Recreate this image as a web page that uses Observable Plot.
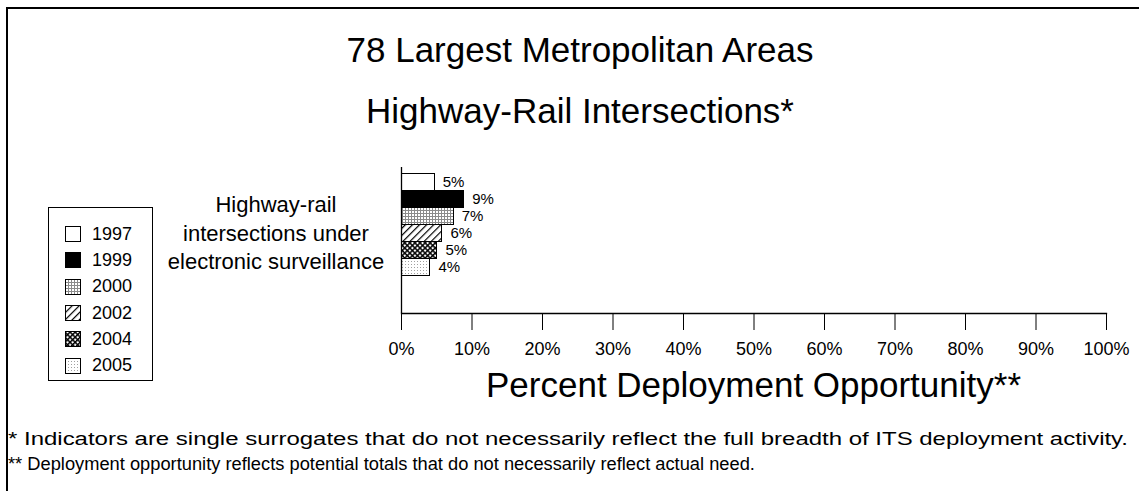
<!DOCTYPE html>
<html>
<head>
<meta charset="utf-8">
<script src="https://cdn.jsdelivr.net/npm/d3@7"></script>
<script src="https://cdn.jsdelivr.net/npm/@observablehq/plot@0.6"></script>
<style>
  html, body { margin: 0; padding: 0; background: #fff; }
  body { font-family: "Liberation Sans", Arial, sans-serif; color: #000; }
  #page { position: relative; width: 1139px; height: 491px; overflow: hidden; }
  .abs { position: absolute; white-space: nowrap; line-height: 1; }
  #border { position: absolute; left: 6px; top: 7px; width: 1200px; height: 600px;
            border-left: 2px solid #000; border-top: 2px solid #000; }
  #chart { position: absolute; left: 0; top: 0; }
  #legend { position: absolute; left: 48px; top: 207px; width: 105px; height: 174px;
            border: 1px solid #000; box-sizing: border-box; padding-top: 13px; }
  .lrow { height: 26.3px; display: flex; align-items: center; padding-left: 16px; font-size: 18px; }
  .lrow svg { margin-right: 11px; }
  #catlabel { position: absolute; left: 140px; width: 272px; top: 191px; text-align: center;
              font-size: 22px; line-height: 28.5px; }
  #fn1 { transform-origin: 0 0; }
</style>
</head>
<body>
<svg width="0" height="0" style="position:absolute">
  <defs>
    <pattern id="p2000" width="3" height="3" patternUnits="userSpaceOnUse">
      <rect width="3" height="3" fill="#fff"/>
      <rect width="3" height="1" fill="#8a8a8a"/>
      <rect width="1" height="3" fill="#8a8a8a"/>
    </pattern>
    <pattern id="p2002" width="5" height="5" patternUnits="userSpaceOnUse" patternTransform="rotate(45)">
      <rect width="5" height="5" fill="#fff"/>
      <rect width="1.2" height="5" fill="#000"/>
    </pattern>
    <pattern id="p2004" width="3.6" height="3.6" patternUnits="userSpaceOnUse" patternTransform="rotate(45)">
      <rect width="3.6" height="3.6" fill="#000"/>
      <rect x="1.5" y="1.5" width="2.1" height="2.1" fill="#fff"/>
    </pattern>
    <pattern id="p2005" width="3" height="3" patternUnits="userSpaceOnUse">
      <rect width="3" height="3" fill="#fff"/>
      <rect width="1" height="1" fill="#a0a0a0"/>
    </pattern>
  </defs>
</svg>
<div id="page">
  <div id="border"></div>
  <div class="abs" style="left:0;width:1160px;text-align:center;top:32px;font-size:35px;">78 Largest Metropolitan Areas</div>
  <div class="abs" style="left:0;width:1160px;text-align:center;top:93px;font-size:35px;">Highway-Rail Intersections*</div>
  <div class="abs" style="left:0;width:1507px;text-align:center;top:367px;font-size:35px;">Percent Deployment Opportunity**</div>
  <div id="catlabel"></div>
  <div id="legend"></div>
  <div class="abs" style="left:8px;top:430px;font-size:18.3px;" id="fn1"></div>
  <div class="abs" style="left:8px;top:455px;font-size:18.3px;" id="fn2"></div>
  <div id="chart"></div>
</div>
<script>
// ---- data ----
const years = ["1997", "1999", "2000", "2002", "2004", "2005"];
const values = [4.7, 8.9, 7.4, 5.8, 5.1, 4.1];
const valueLabels = ["5%", "9%", "7%", "6%", "5%", "4%"];
const fills = ["#fff", "#000", "url(#p2000)", "url(#p2002)", "url(#p2004)", "url(#p2005)"];
const xTicks = [0, 10, 20, 30, 40, 50, 60, 70, 80, 90, 100];
const categoryLines = ["Highway-rail", "intersections under", "electronic surveillance"];
const footnotes = [
  "* Indicators are single surrogates that do not necessarily reflect the full breadth of ITS deployment activity.",
  "** Deployment opportunity reflects potential totals that do not necessarily reflect actual need."
];

const data = years.map((y, i) => ({year: y, value: values[i], label: valueLabels[i]}));

// text
document.getElementById("catlabel").innerHTML = categoryLines.join("<br>");
const fn1 = document.getElementById("fn1");
fn1.textContent = footnotes[0];
document.getElementById("fn2").textContent = footnotes[1];
// first footnote line is stretched across the box width in the original
const w = fn1.getBoundingClientRect().width;
fn1.style.transform = `scaleX(${1120 / w})`;

// legend
const legend = document.getElementById("legend");
years.forEach((y, i) => {
  const row = document.createElement("div");
  row.className = "lrow";
  row.innerHTML = `<svg width="16" height="16"><rect x="0.5" y="0.5" width="15" height="15" fill="${fills[i]}" stroke="#000" stroke-width="1"/></svg><span>${y}</span>`;
  legend.appendChild(row);
});

const chart = Plot.plot({
  width: 1139,
  height: 491,
  marginLeft: 401,
  marginRight: 33,
  marginTop: 167,
  marginBottom: 178,
  style: {fontFamily: "'Liberation Sans', Arial, sans-serif", color: "#000", background: "transparent", overflow: "visible"},
  x: {domain: [0, 100], ticks: xTicks, tickFormat: d => d + "%", label: null},
  y: {domain: years, range: [171, 277], padding: 0, axis: null, label: null},
  color: {domain: years, range: fills},
  marks: [
    Plot.barX(data, {x: "value", y: "year", fill: "year", stroke: "#000", strokeWidth: 1, shapeRendering: "crispEdges"}),
    Plot.text(data, {x: "value", y: "year", text: "label", textAnchor: "start", dx: 8, fontSize: 15, fill: "#000"}),
    Plot.ruleX([0], {stroke: "#000", strokeWidth: 1.3}),
    Plot.frame({anchor: "bottom", stroke: "#000", strokeWidth: 1.3}),
    Plot.axisX({ticks: xTicks, tickSize: 17, tickPadding: 12, fontSize: 18, stroke: "#000", strokeOpacity: 1, tickFormat: d => d + "%", label: null})
  ]
});
document.getElementById("chart").appendChild(chart);
</script>
</body>
</html>
